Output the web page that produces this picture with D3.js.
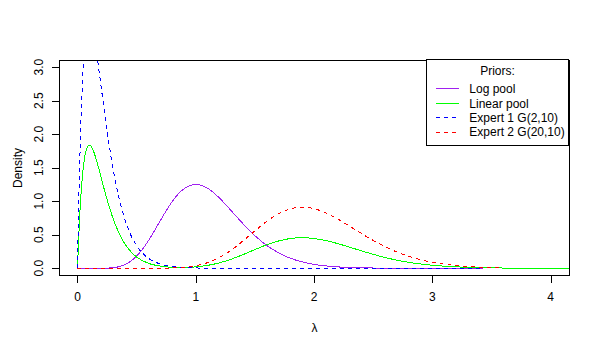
<!DOCTYPE html>
<html>
<head>
<meta charset="utf-8">
<script src="https://cdn.jsdelivr.net/npm/d3@7/dist/d3.min.js"></script>
<style>
  html, body { margin: 0; padding: 0; background: #fff; }
  svg { display: block; }
  text { font-family: "Liberation Sans", Arial, Helvetica, sans-serif; font-size: 12px; fill: #000; }
</style>
</head>
<body>
<svg id="chart" width="600" height="350"></svg>
<script>
// ---------------- data ----------------
const xTicks = [0, 1, 2, 3, 4];
const yTicks = [0, 0.5, 1, 1.5, 2, 2.5, 3];
const yTickLabels = ["0.0", "0.5", "1.0", "1.5", "2.0", "2.5", "3.0"];

const seriesNames = ["Log pool", "Linear pool", "Expert 1 G(2,10)", "Expert 2 G(20,10)"];
const seriesColors = ["#A020F0", "#00FF00", "#0000FF", "#FF0000"];
const seriesDashed = [false, false, true, true];

const logPoolX = [0, 0.2, 0.3, 0.35, 0.4, 0.45, 0.5, 0.55, 0.6, 0.65, 0.7, 0.75, 0.8, 0.85, 0.9, 0.95, 1.0, 1.05, 1.1, 1.15, 1.2, 1.25, 1.3, 1.35, 1.4, 1.5, 1.6, 1.7, 1.8, 1.9, 2.0, 2.2, 2.4, 2.6, 2.8, 3.0, 3.43];
const logPoolY = [0, 0.0004, 0.0081, 0.0230, 0.0529, 0.1043, 0.1814, 0.2853, 0.4131, 0.5577, 0.7097, 0.8581, 0.9930, 1.1041, 1.1853, 1.2349, 1.2511, 1.2360, 1.1937, 1.1293, 1.0483, 0.9564, 0.8590, 0.7596, 0.6629, 0.4862, 0.3410, 0.2300, 0.1498, 0.0946, 0.0581, 0.0204, 0.0066, 0.0020, 0.0006, 0.0002, 0];

const linPoolX = [0, 0.01, 0.02, 0.03, 0.04, 0.05, 0.06, 0.08, 0.1, 0.12, 0.14, 0.16, 0.18, 0.2, 0.25, 0.3, 0.35, 0.4, 0.45, 0.5, 0.6, 0.7, 0.8, 0.9,
  1.0, 1.1, 1.2, 1.3, 1.4, 1.5, 1.6, 1.7, 1.8, 1.9, 2.0, 2.1, 2.2, 2.3, 2.4, 2.5, 2.6, 2.7, 2.8, 2.9, 3.0, 3.1, 3.2, 3.3, 3.4, 3.5, 3.6, 3.8, 4.0, 4.2];
const linPoolY = [0, 0.452, 0.819, 1.111, 1.341, 1.516, 1.646, 1.797, 1.839, 1.807, 1.726, 1.615, 1.488, 1.353, 1.026, 0.747, 0.528, 0.366, 0.250, 0.168, 0.074, 0.032, 0.015, 0.012,
  0.021, 0.043, 0.081, 0.136, 0.204, 0.279, 0.350, 0.407, 0.444, 0.456, 0.444, 0.413, 0.368, 0.315, 0.260, 0.208, 0.161, 0.121, 0.089, 0.064, 0.045, 0.031, 0.021, 0.014, 0.009, 0.006, 0.0035, 0.0013, 0.0005, 0.0002];

const expert1X = [0, 0.01, 0.02, 0.03, 0.04, 0.05, 0.06, 0.08, 0.1, 0.12, 0.14, 0.16, 0.18, 0.2, 0.25, 0.3, 0.35, 0.4, 0.45, 0.5, 0.6, 0.7, 0.8, 0.9, 1.0, 1.2, 1.5, 2.0, 2.5, 3.0, 3.43];
const expert1Y = [0, 0.905, 1.637, 2.222, 2.681, 3.033, 3.293, 3.595, 3.679, 3.614, 3.452, 3.230, 2.975, 2.707, 2.052, 1.494, 1.057, 0.733, 0.500, 0.337, 0.149, 0.064, 0.027, 0.011, 0.0045, 0.0007, 0.00005, 0, 0, 0, 0];

const expert2X = [0, 0.5, 0.6, 0.7, 0.8, 0.9, 1.0, 1.1, 1.2, 1.3, 1.4, 1.5, 1.6, 1.7, 1.8, 1.9, 2.0, 2.1, 2.2, 2.3, 2.4, 2.5, 2.6, 2.7, 2.8, 2.9, 3.0, 3.1, 3.2, 3.3, 3.4, 3.5, 3.6];
const expert2Y = [0, 0.00001, 0.0001, 0.0009, 0.0040, 0.0137, 0.0373, 0.0840, 0.1614, 0.2717, 0.4086, 0.5576, 0.6990, 0.8138, 0.8869, 0.9112, 0.8886, 0.8261, 0.7356, 0.6294, 0.5199, 0.4156, 0.3220, 0.2426, 0.1782, 0.1277, 0.0894, 0.0613, 0.0413, 0.0272, 0.0177, 0.0113, 0.0071];

// ---------------- layout ----------------
const plotL = 59.5, plotR = 569.5, plotT = 60.5, plotB = 275.5;
const svg = d3.select("#chart");

const x = d3.scaleLinear().domain([-0.152, 4.16]).range([plotL, plotR]);
const y = d3.scaleLinear().domain([-0.108, 3.1]).range([plotB, plotT]);

svg.append("defs").append("clipPath").attr("id", "clip")
  .append("rect").attr("x", plotL).attr("y", plotT).attr("width", plotR - plotL).attr("height", plotB - plotT);

// curves
const seriesData = [
  d3.zip(logPoolX, logPoolY),
  d3.zip(linPoolX, linPoolY),
  d3.zip(expert1X, expert1Y),
  d3.zip(expert2X, expert2Y)
];
const line = d3.line().x(d => x(d[0])).y(d => y(d[1])).curve(d3.curveMonotoneX);
const g = svg.append("g").attr("clip-path", "url(#clip)");
seriesData.forEach((d, i) => {
  g.append("path").attr("d", line(d))
    .attr("fill", "none")
    .attr("stroke", seriesColors[i])
    .attr("stroke-width", 1)
    .attr("shape-rendering", "crispEdges")
    .attr("stroke-dasharray", seriesDashed[i] ? "4,4" : null);
});

// box
svg.append("rect").attr("x", plotL).attr("y", plotT).attr("width", plotR - plotL).attr("height", plotB - plotT)
  .attr("fill", "none").attr("stroke", "#000").attr("stroke-width", 1).attr("shape-rendering", "crispEdges");

// axes
const xAxis = svg.append("g").attr("transform", `translate(0,${plotB})`)
  .call(d3.axisBottom(x).tickValues(xTicks).tickSize(7.5).tickSizeOuter(0).tickFormat(""));
xAxis.select(".domain").remove();
xAxis.selectAll("line").attr("stroke", "#000").attr("shape-rendering", "crispEdges");

const yAxis = svg.append("g").attr("transform", `translate(${plotL},0)`)
  .call(d3.axisLeft(y).tickValues(yTicks).tickSize(7.5).tickSizeOuter(0).tickFormat(""));
yAxis.select(".domain").remove();
yAxis.selectAll("line").attr("stroke", "#000").attr("shape-rendering", "crispEdges");

// tick labels
svg.append("g").selectAll("text").data(xTicks).join("text")
  .attr("x", d => x(d)).attr("y", 301).attr("text-anchor", "middle").text(d => d);

svg.append("g").selectAll("text").data(yTicks).join("text")
  .attr("transform", d => `translate(42.8,${y(d)}) rotate(-90)`)
  .attr("text-anchor", "middle").text((d, i) => yTickLabels[i]);

// axis titles
svg.append("text").attr("transform", `translate(21.8,${(plotT + plotB) / 2}) rotate(-90)`)
  .attr("text-anchor", "middle").text("Density");
svg.append("text").attr("x", (plotL + plotR) / 2).attr("y", 331.5)
  .attr("text-anchor", "middle").text("λ");

// legend
const legL = 426.5, legR = 568.5, legT = 59.5, legB = 145.5;
svg.append("rect").attr("x", legL).attr("y", legT).attr("width", legR - legL).attr("height", legB - legT)
  .attr("fill", "#fff").attr("stroke", "#000").attr("stroke-width", 1).attr("shape-rendering", "crispEdges");
svg.append("text").attr("x", (legL + legR) / 2).attr("y", 74.5).attr("text-anchor", "middle").text("Priors:");
const rowY = [88.8, 103.2, 117.6, 132];
seriesNames.forEach((name, i) => {
  svg.append("line").attr("x1", 436).attr("x2", 458.5).attr("y1", rowY[i]).attr("y2", rowY[i])
    .attr("stroke", seriesColors[i]).attr("stroke-width", 1).attr("shape-rendering", "crispEdges")
    .attr("stroke-dasharray", seriesDashed[i] ? "4,4" : null);
  svg.append("text").attr("x", 469.3).attr("y", rowY[i] + 4.3).text(name);
});
</script>
</body>
</html>
